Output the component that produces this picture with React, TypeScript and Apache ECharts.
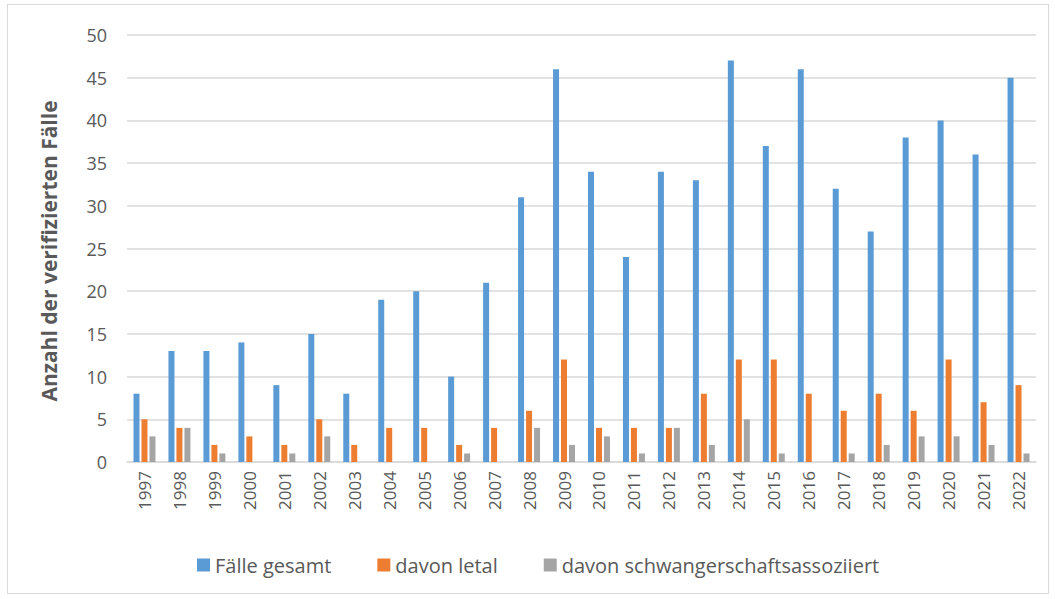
import React, { useEffect, useRef } from "react";
import * as echarts from "echarts";

const years = ["1997","1998","1999","2000","2001","2002","2003","2004","2005","2006","2007","2008","2009","2010","2011","2012","2013","2014","2015","2016","2017","2018","2019","2020","2021","2022"];
const gesamt = [8,13,13,14,9,15,8,19,20,10,21,31,46,34,24,34,33,47,37,46,32,27,38,40,36,45];
const letal = [5,4,2,3,2,5,2,4,4,2,4,6,12,4,4,4,8,12,12,8,6,8,6,12,7,9];
const schwanger = [3,4,1,0,1,3,0,0,0,1,0,4,2,3,1,4,2,5,1,0,1,2,3,3,2,1];
const yTitle = "Anzahl der verifizierten Fälle";

const FONT = "Open Sans";
const TXT = "#595959";

export default function App() {
  const ref = useRef<HTMLDivElement>(null);
  useEffect(() => {
    const chart = echarts.init(ref.current!, null, { renderer: "svg" });
    chart.setOption({
      animation: false,
      textStyle: { fontFamily: FONT },
      grid: { left: 119, right: 12, top: 30, bottom: 131, containLabel: false },
      legend: {
        top: 545,
        left: 184,
        itemWidth: 13,
        itemHeight: 13,
        itemGap: 46,
        icon: "rect",
        textStyle: { fontFamily: FONT, fontSize: 20, color: TXT },
        data: ["Fälle gesamt", "davon letal", "davon schwangerschaftsassoziiert"],
      },
      graphic: [
        {
          type: "text",
          x: 41,
          y: 246,
          rotation: Math.PI / 2,
          style: {
            text: yTitle,
            fontSize: 21,
            fontWeight: "bold",
            fontFamily: FONT,
            fill: TXT,
            align: "center",
            verticalAlign: "middle",
          },
        },
      ],
      xAxis: {
        type: "category",
        data: years,
        axisLine: { lineStyle: { color: "#d9d9d9", width: 1.5 } },
        axisTick: { show: false },
        axisLabel: { rotate: 90, fontSize: 17, color: TXT, fontFamily: FONT, margin: 9 },
      },
      yAxis: {
        type: "value",
        min: 0,
        max: 50,
        interval: 5,
        axisLine: { show: false },
        axisTick: { show: false },
        axisLabel: { fontSize: 18, color: TXT, fontFamily: FONT, margin: 20 },
        splitLine: { lineStyle: { color: "#d9d9d9", width: 1.5 } },
      },
      series: [
        { name: "Fälle gesamt", type: "bar", data: gesamt, barWidth: 6, barGap: "33%", itemStyle: { color: "#5B9BD5" } },
        { name: "davon letal", type: "bar", data: letal, barWidth: 6, barGap: "33%", itemStyle: { color: "#ED7D31" } },
        { name: "davon schwangerschaftsassoziiert", type: "bar", data: schwanger, barWidth: 6, barGap: "33%", itemStyle: { color: "#A5A5A5" } },
      ],
    });
    return () => chart.dispose();
  }, []);
  return (
    <div
      style={{
        position: "absolute",
        left: 7,
        top: 4,
        width: 1040,
        height: 588,
        border: "1px solid #d9d9d9",
        background: "#fff",
      }}
    >
      <div ref={ref} style={{ width: 1040, height: 588 }} />
    </div>
  );
}
